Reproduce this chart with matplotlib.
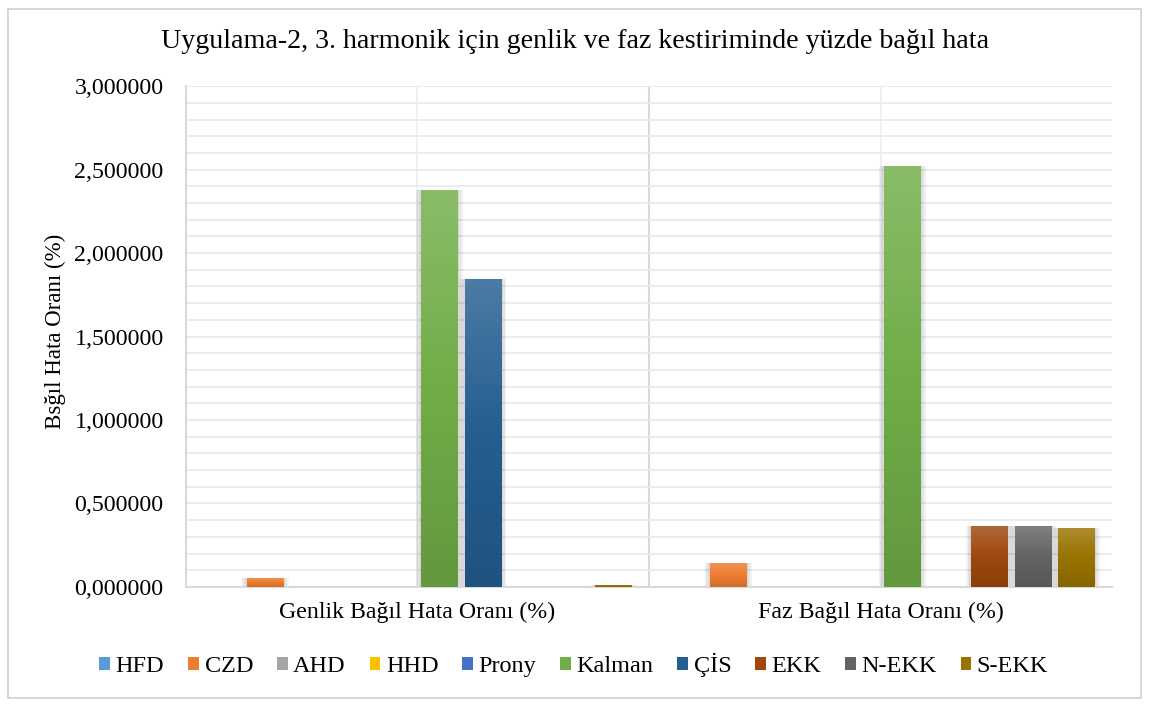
import numpy as np
import matplotlib.pyplot as plt
import matplotlib.colors as mcolors
from matplotlib.patches import Rectangle
from matplotlib.ticker import FuncFormatter, MultipleLocator

# Données
kategoriler = ['Genlik Bağıl Hata Oranı (%)', 'Faz Bağıl Hata Oranı (%)']
yontemler = ['HFD', 'CZD', 'AHD', 'HHD', 'Prony', 'Kalman', 'ÇİS', 'EKK', 'N-EKK', 'S-EKK']
genlik = [0.001, 0.055, 0.001, 0.001, 0.001, 2.375, 1.845, 0.002, 0.002, 0.012]
faz = [0.001, 0.144, 0.001, 0.001, 0.001, 2.520, 0.001, 0.365, 0.365, 0.353]
renkler = ['#5B9BD5', '#ED7D31', '#A5A5A5', '#FFC000', '#4472C4',
           '#70AD47', '#255E91', '#9E480E', '#636363', '#997300']

plt.rcParams['font.family'] = ['Liberation Serif', 'DejaVu Serif']

fig = plt.figure(figsize=(11.5, 7.06), dpi=100)
ax = fig.add_axes([0.1617, 0.1686, 0.8053, 0.7094])

# cadre extérieur
fig.patches.append(Rectangle((8 / 1150, 8 / 706), 1133 / 1150, 689 / 706,
                             transform=fig.transFigure, fill=False,
                             edgecolor='#D0D0D0', linewidth=1.2))

x = np.arange(len(kategoriler))
pas = 0.094
largeur = 0.078
valeurs = np.array([genlik, faz])


def degrade(c):
    rgb = np.array(mcolors.to_rgb(c))
    haut = rgb + (1 - rgb) * 0.18
    bas = rgb * 0.88
    return mcolors.LinearSegmentedColormap.from_list('d', [bas, rgb, haut])


for i, (nom, col) in enumerate(zip(yontemler, renkler)):
    pos = x + (i - 4.5) * pas
    h = valeurs[:, i]
    # ombre
    for k in range(3):
        d = 0.004 * (k + 1)
        ax.bar(pos, h, width=largeur + 2 * d, color='black', alpha=0.05,
               linewidth=0, zorder=2)
    barres = ax.bar(pos, h, width=largeur, color=col, label=nom,
                    linewidth=0, zorder=3)
    cmap = degrade(col)
    grad = np.linspace(0, 1, 100).reshape(-1, 1)
    for b in barres:
        bx, by = b.get_x(), b.get_y()
        bw, bh = b.get_width(), b.get_height()
        if bh <= 0.003:
            continue
        im = ax.imshow(grad, cmap=cmap, origin='lower', aspect='auto',
                       extent=(bx, bx + bw, by, by + bh), zorder=4)
        im.set_clip_path(b)

ax.set_xlim(-0.5, 1.5)
ax.set_ylim(0, 3.0)
ax.yaxis.set_major_locator(MultipleLocator(0.5))
ax.yaxis.set_minor_locator(MultipleLocator(0.1))
ax.yaxis.set_major_formatter(FuncFormatter(lambda v, p: f'{v:.6f}'.replace('.', ',')))
ax.grid(axis='y', which='both', color='#EBEBEB', linewidth=1.3, zorder=0)
ax.axvline(0.5, color='#D9D9D9', linewidth=1.5, zorder=1)
for c in x:
    ax.axvline(c, color='#EDEDED', linewidth=1.2, zorder=1)

ax.set_xticks(x)
ax.set_xticklabels(kategoriler, fontsize=17.2)
ax.tick_params(axis='x', length=0, pad=11)
ax.tick_params(axis='y', which='both', length=0, labelsize=17.2, pad=16)
for s in ['top', 'right']:
    ax.spines[s].set_visible(False)
for s in ['left', 'bottom']:
    ax.spines[s].set_color('#D9D9D9')
    ax.spines[s].set_linewidth(1.5)

fig.text(55 / 1150, 1 - 331 / 706, 'Bsğıl Hata Oranı (%)', rotation=90,
         ha='center', va='center', fontsize=16.5)
fig.text(0.5, 1 - 41 / 706, 'Uygulama-2, 3. harmonik için genlik ve faz kestiriminde yüzde bağıl hata',
         ha='center', va='center', fontsize=20.2)

fig.legend(loc='center', bbox_to_anchor=(0.499, 1 - 665 / 706), ncol=10, frameon=False,
           fontsize=17.5, handlelength=0.45, handleheight=0.45, handletextpad=0.22,
           columnspacing=0.98)

fig.savefig('out.png', dpi=100)
